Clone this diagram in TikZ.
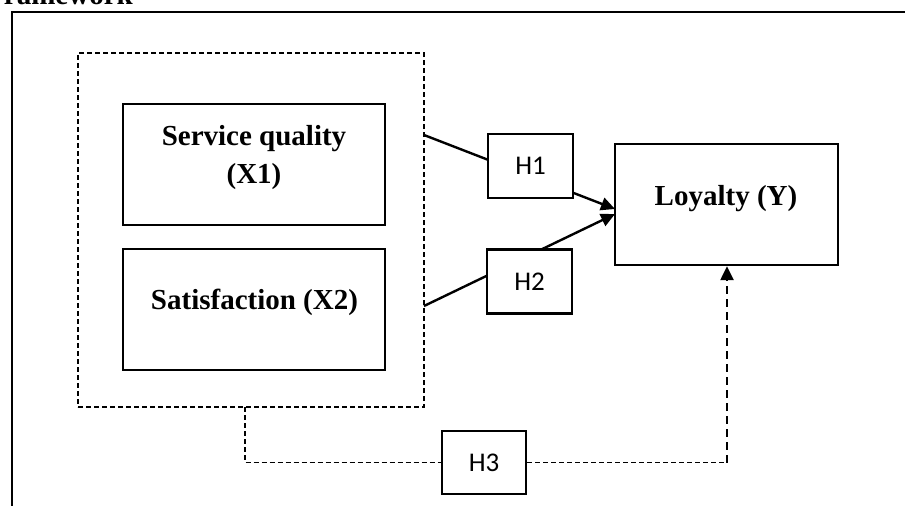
\documentclass[tikz,border=0pt]{standalone}
\usepackage{fontspec}
\setmainfont{Liberation Serif}
\newfontfamily\hfont{Carlito}
\usetikzlibrary{arrows.meta}
\begin{document}
\begin{tikzpicture}[x=1pt,y=-1pt,
  box/.style={draw,line width=2.4pt,inner sep=0pt},
  hbox/.style={draw,line width=2.4pt,fill=white,inner sep=0pt,minimum width=85pt,minimum height=64pt,font=\hfont\fontsize{27}{32}\selectfont},
  lbl/.style={anchor=base,inner sep=0pt,font=\bfseries\fontsize{29}{35}\selectfont},
  conn/.style={line width=2.4pt},
  tip/.style={-{Triangle[length=14pt,width=13pt]}},
  thindash/.style={line width=1.4pt,dash pattern=on 5pt off 3pt},
  thickdash/.style={line width=2.4pt,dash pattern=on 8pt off 5pt}]
\useasboundingbox (0,0) rectangle (905,506);
\clip (0,0) rectangle (905,506);
% title
\node[anchor=base west,inner sep=0pt,font=\bfseries\fontsize{29}{35}\selectfont] (title) at (-14,5) {Framework};
% outer frame
\draw[line width=2.6pt] (12,530) -- (12,12) -- (930,12);
% dashed group
\node[draw,thindash,inner sep=0pt,minimum width=346pt,minimum height=354pt] (grp) at (251,230) {};
% boxes
\node[box,minimum width=262pt,minimum height=121pt] (sq) at (254,164.5) {};
\node[box,minimum width=262pt,minimum height=121pt] (sat) at (254,309.5) {};
\node[box,minimum width=223pt,minimum height=121pt] (loy) at (726.5,204.5) {};
\node[lbl] (sqt1) at (254,145) {Service quality};
\node[lbl] (sqt2) at (254,183) {(X1)};
\node[lbl] (satt) at (254.5,309) {Satisfaction (X2)};
\node[lbl] (loyt) at (726,205) {Loyalty (Y)};
% connectors
\coordinate (e1) at (424,135);
\coordinate (e2) at (424,306);
\coordinate (t1) at (615,209);
\coordinate (t2) at (615,214);
\draw[conn,tip] (e1) -- (t1);
\draw[conn,tip] (e2) -- (t2);
\node[hbox] (h1) at (530.5,166) {H1};
\node[hbox] (h2) at (529.5,281.5) {H2};
\node[hbox,minimum width=84pt,minimum height=63pt] (h3) at (484,462.5) {H3};
% H3 path
\coordinate (g3) at (245,407);
\coordinate (c3) at (727,462.5);
\draw[thindash] (g3) |- (h3.west);
\draw[thindash] (h3.east) -- (c3);
\draw[thickdash,tip] (c3) -- (c3 |- loy.south);
\end{tikzpicture}
\end{document}
